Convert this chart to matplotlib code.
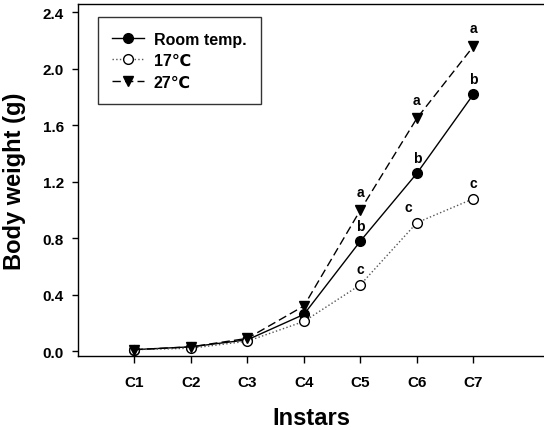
import numpy as np
import matplotlib
matplotlib.use("Agg")
import matplotlib.pyplot as plt

plt.rcParams['font.family'] = ['Liberation Sans', 'DejaVu Sans']

# data
instars = ['C1', 'C2', 'C3', 'C4', 'C5', 'C6', 'C7']
room = [0.01, 0.03, 0.08, 0.26, 0.78, 1.26, 1.82]
t17 = [0.01, 0.02, 0.07, 0.21, 0.47, 0.91, 1.08]
t27 = [0.01, 0.03, 0.09, 0.32, 1.00, 1.65, 2.16]

# significance letters (C5..C7)
letter_idx = [4, 5, 6]
room_letters = ['b', 'b', 'b']
t17_letters = ['c', 'c', 'c']
t27_letters = ['a', 'a', 'a']

x = np.arange(1, len(instars) + 1)

fig = plt.figure(figsize=(5.44, 4.31), dpi=100)
ax = fig.add_axes([78 / 544, 1 - 357 / 431, 1 - 78 / 544, 352 / 431])

ax.plot(x, room, '-', color='black', lw=1.0, marker='o', ms=7,
        mfc='black', mec='black', label='Room temp.', zorder=3)
ax.plot(x, t17, ':', color='#555555', lw=1.0, marker='o', ms=7,
        mfc='white', mec='black', label='17\u2103', zorder=3)
ax.plot(x, t27, '--', color='black', lw=1.0, dashes=(6, 3), marker='v', ms=7,
        mfc='black', mec='black', label='27\u2103', zorder=3)

lkw = dict(fontsize=10, fontweight='bold', ha='center', va='bottom')
for k, i in enumerate(letter_idx):
    ax.annotate(room_letters[k], (x[i], room[i]), xytext=(0, 6),
                textcoords='offset points', **lkw)
    ax.annotate(t27_letters[k], (x[i], t27[i]), xytext=(0, 8),
                textcoords='offset points', **lkw)
    dx = -6 if i == 5 else 0
    ax.annotate(t17_letters[k], (x[i], t17[i]), xytext=(dx, 6),
                textcoords='offset points', **lkw)

ax.set_xlim(0, 8.25)
ax.set_ylim(-0.035, 2.46)
ax.set_xticks(x)
ax.set_xticklabels(instars)
ax.set_yticks([0.0, 0.4, 0.8, 1.2, 1.6, 2.0, 2.4])
ax.set_yticklabels(['0.0', '0.4', '0.8', '1.2', '1.6', '2.0', '2.4'])
ax.tick_params(axis='y', direction='out', length=4, width=1, pad=6)
ax.tick_params(axis='x', direction='out', length=5, width=1, pad=9)
for lab in ax.get_xticklabels() + ax.get_yticklabels():
    lab.set_fontweight('bold')
    lab.set_fontsize(11)

ax.spines['right'].set_visible(False)
for s in ['left', 'bottom', 'top']:
    ax.spines[s].set_linewidth(1.0)

ax.set_xlabel('Instars', fontsize=17, fontweight='bold', labelpad=12)
ax.set_ylabel('Body weight (g)', fontsize=17, fontweight='bold', labelpad=12)

leg = ax.legend(loc='upper left', bbox_to_anchor=(0.025, 0.985),
                prop={'weight': 'bold', 'size': 11.5}, frameon=True, fancybox=False,
                edgecolor='black', handlelength=2.0, handletextpad=0.6,
                borderpad=0.9, labelspacing=0.4)
leg.get_frame().set_linewidth(1.0)

plt.savefig('out.png', dpi=100)
